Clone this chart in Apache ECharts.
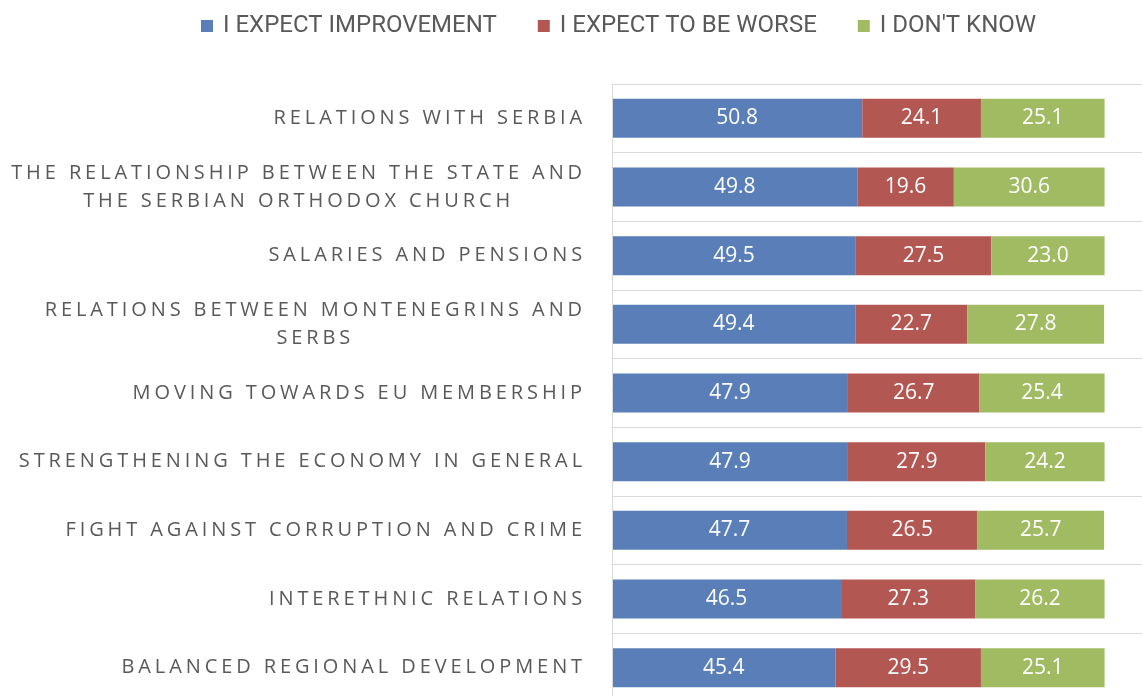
<!DOCTYPE html>
<html>
<head>
<meta charset="utf-8">
<script src="https://cdn.jsdelivr.net/npm/echarts@6/dist/echarts.min.js"></script>
<style>
  html, body { margin: 0; padding: 0; background: #fff; }
  #chart { width: 1142px; height: 696px; }
</style>
</head>
<body>
<div id="chart"></div>
<script>
const categories = [
    "RELATIONS WITH SERBIA",
    "THE RELATIONSHIP BETWEEN THE STATE AND\nTHE SERBIAN ORTHODOX CHURCH",
    "SALARIES AND PENSIONS",
    "RELATIONS BETWEEN MONTENEGRINS AND\nSERBS",
    "MOVING TOWARDS EU MEMBERSHIP",
    "STRENGTHENING THE ECONOMY IN GENERAL",
    "FIGHT AGAINST CORRUPTION AND CRIME",
    "INTERETHNIC RELATIONS",
    "BALANCED REGIONAL DEVELOPMENT"
];
const seriesNames = ["I EXPECT IMPROVEMENT", "I EXPECT TO BE WORSE", "I DON'T KNOW"];
const improvement = [50.8, 49.8, 49.5, 49.4, 47.9, 47.9, 47.7, 46.5, 45.4];
const worse = [24.1, 19.6, 27.5, 22.7, 26.7, 27.9, 26.5, 27.3, 29.5];
const dontKnow = [25.1, 30.6, 23.0, 27.8, 25.4, 24.2, 25.7, 26.2, 25.1];

const colors = ['#5a7fb8', '#b35752', '#a1bb63'];
const gridColor = '#d9d9d9';
const textColor = '#595959';

// category labels are letter-spaced; the axis sits on its own canvas layer
// so only that layer gets the spacing, and measuring knows about it too
const labelSpacing = '3.9px';
const labelFamily = 'Open Sans, Lato';
const measureCtx = document.createElement('canvas').getContext('2d');
echarts.setPlatformAPI({
    measureText: (text, font) => {
        measureCtx.font = font;
        measureCtx.letterSpacing = font.indexOf('Lato') >= 0 ? labelSpacing : '0px';
        return measureCtx.measureText(text);
    }
});

const chart = echarts.init(document.getElementById('chart'));

const makeSeries = (name, data, i) => ({
    name: name,
    type: 'bar',
    stack: 'total',
    data: data,
    barWidth: 39,
    itemStyle: { color: colors[i] },
    label: {
        show: true,
        position: 'inside',
        color: '#fff',
        fontFamily: 'Open Sans',
        fontSize: 21,
        formatter: p => p.value.toFixed(1)
    }
});

chart.setOption({
    animation: false,
    legend: {
        top: 9,
        left: 196,
        itemWidth: 12,
        itemHeight: 12,
        itemGap: 41,
        icon: 'rect',
        textStyle: {
            color: textColor,
            fontFamily: 'Roboto',
            fontSize: 24,
            padding: [0, 0, 0, 5]
        },
        data: seriesNames
    },
    grid: {
        left: 612,
        top: 84,
        right: -2,
        bottom: -6,
        outerBoundsMode: 'none'
    },
    xAxis: {
        type: 'value',
        min: 0,
        max: 108,
        show: false
    },
    yAxis: {
        type: 'category',
        data: categories,
        inverse: true,
        zlevel: 1,
        axisLine: { show: true, lineStyle: { color: gridColor, width: 1 } },
        axisTick: { show: false },
        splitLine: { show: true, lineStyle: { color: gridColor, width: 1 } },
        axisLabel: {
            margin: 26,
            interval: 0,
            color: textColor,
            fontFamily: labelFamily,
            fontSize: 20,
            lineHeight: 28,
            formatter: v => v.split('\n').map(s => '{c|' + s + '}').join('\n'),
            rich: {
                c: {
                    align: 'center',
                    color: textColor,
                    fontFamily: labelFamily,
                    fontSize: 20,
                    lineHeight: 28
                }
            }
        }
    },
    series: [
        makeSeries(seriesNames[0], improvement, 0),
        makeSeries(seriesNames[1], worse, 1),
        makeSeries(seriesNames[2], dontKnow, 2)
    ]
});

const painter = chart.getZr().painter;
const axisLayer = painter.getLayer(1);
if (axisLayer && axisLayer.ctx) {
    axisLayer.ctx.letterSpacing = labelSpacing;
    painter.refresh(true);
}

window.addEventListener('resize', () => chart.resize());
</script>
</body>
</html>
